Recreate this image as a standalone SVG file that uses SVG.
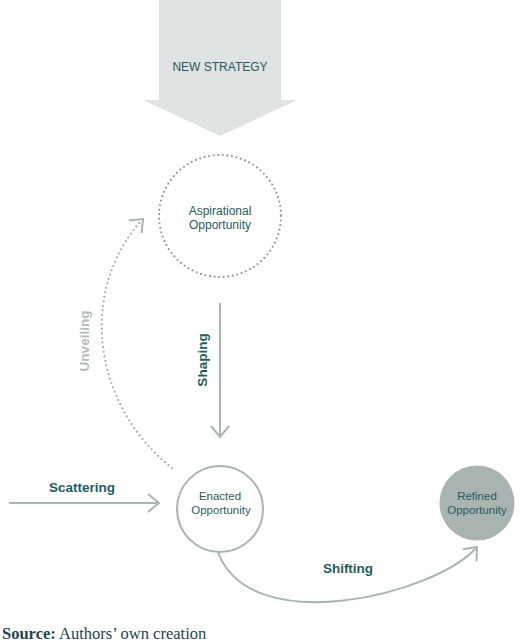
<svg xmlns="http://www.w3.org/2000/svg" width="520" height="642" viewBox="0 0 520 642">
<defs>
<style>
.lbl{font-family:"Liberation Sans",Arial,sans-serif;fill:#1f5c5e;text-anchor:middle}
.node{font-size:11.5px}
.edge{font-size:13.5px;font-weight:bold}
.conn{fill:none;stroke:#a9b5b3;stroke-width:2}
.dots{fill:none;stroke:#a3afae;stroke-width:2.2;stroke-linecap:round;stroke-dasharray:0 4.6}
</style>
<marker id="chev" viewBox="-13 -11 15 22" markerWidth="15" markerHeight="22" refX="0" refY="0" orient="auto" markerUnits="userSpaceOnUse">
<path d="M-11,-9 L0,0 L-11,9" fill="none" stroke="#a9b5b3" stroke-width="2"/>
</marker>
</defs>
<rect width="520" height="642" fill="#ffffff"/>
<g id="new-strategy">
<polygon points="159,0 281,0 281,100 297,100 220,136 143,100 159,100" fill="#dfe3e3"/>
<text class="lbl" x="220" y="71" font-size="12">NEW STRATEGY</text>
</g>
<g id="connectors">
<line class="conn" x1="220" y1="303" x2="220" y2="437" marker-end="url(#chev)"/>
<line class="conn" x1="9" y1="503" x2="159" y2="503" marker-end="url(#chev)"/>
<path class="dots" d="M172,468 C92,405 78,290 142,220"/>
<path class="conn" d="M142,220 L143,219" marker-end="url(#chev)"/>
<path class="conn" d="M218,552 C250,640 435,595 477,547" marker-end="url(#chev)"/>
<text class="lbl edge" transform="translate(207,360) rotate(-90)">Shaping</text>
<text class="lbl edge" transform="translate(89,341) rotate(-90)" style="fill:#b3bcbb" font-size="13">Unveiling</text>
<text class="lbl edge" x="82" y="492">Scattering</text>
<text class="lbl edge" x="348" y="573">Shifting</text>
</g>
<g id="aspirational">
<circle class="dots" cx="220" cy="216" r="61" style="stroke:#8f9d9c"/>
<text class="lbl" x="220" y="215" font-size="12">Aspirational</text>
<text class="lbl" x="220" y="229" font-size="12">Opportunity</text>
</g>
<g id="enacted">
<circle cx="220" cy="509" r="43" fill="#ffffff" stroke="#a9b5b3" stroke-width="2"/>
<text class="lbl node" x="220" y="500">Enacted</text>
<text class="lbl node" x="221" y="514">Opportunity</text>
</g>
<g id="refined">
<circle cx="477" cy="503" r="37.5" fill="#a9b3b1"/>
<text class="lbl node" x="477" y="500">Refined</text>
<text class="lbl node" x="477" y="514">Opportunity</text>
</g>
<text x="2" y="639" font-family="'Liberation Serif','Times New Roman',serif" font-size="16.5" fill="#1f4450"><tspan font-weight="bold">Source:</tspan> Authors’ own creation</text>
</svg>
